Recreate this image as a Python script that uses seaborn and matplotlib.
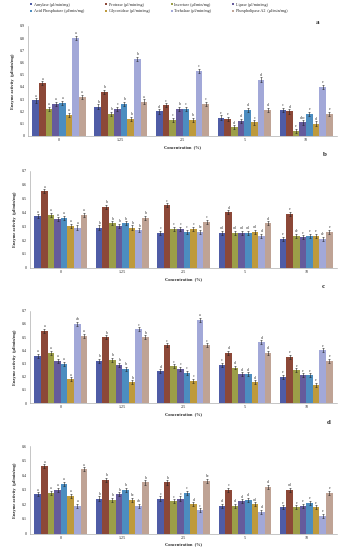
import matplotlib
matplotlib.use("Agg")
import matplotlib.pyplot as plt
import numpy as np
import pandas as pd
import seaborn as sns
from matplotlib.lines import Line2D

# ---------------------------------------------------------------------------
# Data
# ---------------------------------------------------------------------------
CONCENTRATIONS = ["0", "1.25", "2.5", "5", "10"]
ENZYMES = [
    "Amylase (μl/min/mg)",
    "Protease (μl/min/mg)",
    "Invertase (μl/min/mg)",
    "Lipase (μl/min/mg)",
    "Acid Phosphatase (μl/min/mg)",
    "Glycosidase (μl/min/mg)",
    "Trehalase (μl/min/mg)",
    "Phospholipase A2  (μl/min/mg)",
]
COLORS = ["#4F5CA6", "#8C4838", "#9C9E48", "#655B9C",
          "#4C8DC0", "#BE9A3C", "#A2A8D8", "#BFA395"]

# rows = concentration, columns = enzyme (same order as ENZYMES)
VALUES_A = [
    [0.29, 0.43, 0.22, 0.26, 0.27, 0.17, 0.80, 0.32],
    [0.24, 0.36, 0.18, 0.22, 0.26, 0.14, 0.63, 0.28],
    [0.20, 0.25, 0.13, 0.22, 0.22, 0.13, 0.53, 0.26],
    [0.15, 0.14, 0.07, 0.12, 0.21, 0.11, 0.46, 0.21],
    [0.21, 0.20, 0.04, 0.11, 0.18, 0.10, 0.40, 0.18],
]
VALUES_B = [
    [0.37, 0.55, 0.38, 0.35, 0.36, 0.30, 0.29, 0.38],
    [0.29, 0.44, 0.32, 0.30, 0.32, 0.29, 0.27, 0.36],
    [0.25, 0.45, 0.28, 0.28, 0.26, 0.28, 0.26, 0.33],
    [0.25, 0.40, 0.25, 0.25, 0.25, 0.26, 0.23, 0.32],
    [0.21, 0.39, 0.23, 0.22, 0.23, 0.23, 0.21, 0.26],
]
VALUES_C = [
    [0.36, 0.55, 0.38, 0.32, 0.30, 0.18, 0.60, 0.51],
    [0.32, 0.50, 0.33, 0.29, 0.26, 0.16, 0.56, 0.50],
    [0.24, 0.44, 0.28, 0.26, 0.23, 0.17, 0.63, 0.44],
    [0.29, 0.38, 0.27, 0.22, 0.22, 0.16, 0.46, 0.38],
    [0.20, 0.35, 0.25, 0.21, 0.21, 0.14, 0.40, 0.32],
]
VALUES_D = [
    [0.27, 0.46, 0.28, 0.30, 0.34, 0.26, 0.19, 0.44],
    [0.24, 0.37, 0.23, 0.27, 0.30, 0.23, 0.19, 0.35],
    [0.24, 0.35, 0.22, 0.24, 0.28, 0.20, 0.16, 0.36],
    [0.19, 0.30, 0.19, 0.22, 0.23, 0.20, 0.15, 0.32],
    [0.18, 0.30, 0.18, 0.19, 0.21, 0.18, 0.12, 0.28],
]

LETTERS_A = [
    ["a", "a", "a", "a", "a", "a", "a", "a"],
    ["b", "b", "b", "c", "b", "b", "b", "a"],
    ["d", "c", "c", "b", "c", "b", "c", "c"],
    ["e", "e", "d", "d", "d", "c", "d", "d"],
    ["c", "d", "e", "dbc", "e", "d", "e", "e"],
]
LETTERS_B = [
    ["a", "a", "a", "a", "a", "a", "a", "a"],
    ["b", "b", "b", "b", "b", "b", "b", "b"],
    ["c", "c", "c", "c", "c", "c", "bc", "c"],
    ["cd", "d", "cd", "cd", "cd", "cd", "d", "d"],
    ["e", "e", "de", "e", "e", "e", "de", "e"],
]
LETTERS_C = [
    ["a", "a", "a", "a", "a", "a", "ab", "a"],
    ["b", "b", "b", "b", "b", "b", "c", "b"],
    ["d", "c", "c", "c", "c", "c", "a", "c"],
    ["c", "d", "d", "d", "d", "d", "d", "d"],
    ["e", "e", "e", "e", "e", "e", "e", "e"],
]
LETTERS_D = [
    ["a", "a", "a", "a", "a", "a", "a", "a"],
    ["b", "b", "b", "b", "b", "bc", "ab", "b"],
    ["c", "b", "c", "c", "c", "d", "c", "bc"],
    ["d", "c", "d", "d", "d", "cd", "d", "d"],
    ["e", "cd", "e", "e", "e", "e", "e", "e"],
]

ERR_A = 0.018
ERR_B = 0.015
ERR_C = 0.015
ERR_D = 0.014

PANELS = [
    ("a", VALUES_A, LETTERS_A, ERR_A, 0.9, [0.083, 0.753, 0.911, 0.200]),
    ("b", VALUES_B, LETTERS_B, ERR_B, 0.7, [0.089, 0.513, 0.905, 0.177]),
    ("c", VALUES_C, LETTERS_C, ERR_C, 0.7, [0.089, 0.267, 0.905, 0.168]),
    ("d", VALUES_D, LETTERS_D, ERR_D, 0.6, [0.089, 0.030, 0.905, 0.159]),
]
PANEL_LABEL_POS = {"a": (318, 22), "b": (325, 155), "c": (323, 287), "d": (329, 422)}

# ---------------------------------------------------------------------------
# Plot
# ---------------------------------------------------------------------------
sns.set_style("white")
plt.rcParams["font.family"] = ["Liberation Serif", "DejaVu Serif"]

W, H = 339, 550
fig = plt.figure(figsize=(W / 100, H / 100), dpi=100)


def to_long(values):
    rows = []
    for ci, conc in enumerate(CONCENTRATIONS):
        for ei, enz in enumerate(ENZYMES):
            rows.append({"conc": conc, "enzyme": enz, "value": values[ci][ei]})
    return pd.DataFrame(rows)


for name, values, letters, err, ymax, rect in PANELS:
    ax = fig.add_axes(rect)
    df = to_long(values)
    sns.barplot(data=df, x="conc", y="value", hue="enzyme", order=CONCENTRATIONS,
                hue_order=ENZYMES, palette=COLORS, width=0.86, errorbar=None,
                saturation=1, linewidth=0, legend=False, ax=ax)

    bar_containers = list(ax.containers)
    for ei, container in enumerate(bar_containers):
        for ci, bar in enumerate(container.patches):
            xc = bar.get_x() + bar.get_width() / 2
            h = bar.get_height()
            ax.errorbar(xc, h, yerr=err, fmt="none", ecolor="#222222",
                        elinewidth=0.4, capsize=0.8, capthick=0.4)
            ax.text(xc, h + err + 0.004, letters[ci][ei], ha="center", va="bottom",
                    fontsize=3, color="#333333")

    ax.set_ylim(0, ymax)
    ax.set_yticks(np.arange(0, ymax + 0.001, 0.1))
    ax.set_yticklabels(["0"] + [f"{t:.1f}" for t in np.arange(0.1, ymax + 0.001, 0.1)])
    ax.set_xlim(-0.5, len(CONCENTRATIONS) - 0.5)
    ax.set_xlabel("Concentration  (%)", fontsize=3.2, fontweight="bold", labelpad=2)
    ax.set_ylabel("Enzyme activity  (μl/min/mg)", fontsize=3.2, fontweight="bold", labelpad=3)
    ax.tick_params(axis="both", labelsize=3, length=1, width=0.3, pad=1.5)
    ax.tick_params(axis="x", length=0)
    for side in ["top", "right"]:
        ax.spines[side].set_visible(False)
    for side in ["left", "bottom"]:
        ax.spines[side].set_linewidth(0.4)
        ax.spines[side].set_color("#999999")

    lx, ly = PANEL_LABEL_POS[name]
    fig.text(lx / W, 1 - ly / H, name, fontsize=5, fontweight="bold",
             ha="center", va="center")

# legend: two rows, four columns (column-major fill)
order = [0, 4, 1, 5, 2, 6, 3, 7]
handles = [Line2D([0], [0], marker="s", linestyle="none", markersize=1.6,
                  markerfacecolor=COLORS[i], markeredgewidth=0) for i in order]
labels = [ENZYMES[i] for i in order]
fig.legend(handles, labels, ncol=4, loc="upper left", bbox_to_anchor=(0.08, 1.0),
           frameon=False, fontsize=3, handlelength=0.6, handletextpad=0.3,
           columnspacing=5.0, labelspacing=0.5, borderaxespad=0.3)

fig.savefig("out.png", dpi=100)
